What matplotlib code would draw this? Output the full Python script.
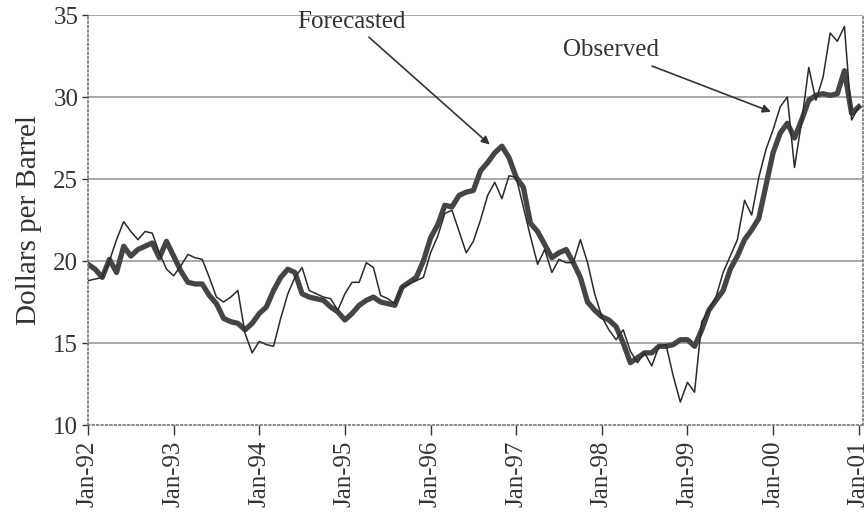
import matplotlib
matplotlib.use("Agg")
import matplotlib.pyplot as plt
import numpy as np

plt.rcParams['font.family'] = ['Liberation Serif', 'DejaVu Serif']

# monthly prices, Jan-92 .. Jan-01
observed = [18.8, 18.9, 19.0, 20.0, 21.3, 22.4, 21.8, 21.3, 21.8, 21.7, 20.5, 19.5,
            19.1, 19.7, 20.4, 20.2, 20.1, 19.0, 17.8, 17.5, 17.8, 18.2, 15.6, 14.4,
            15.1, 14.9, 14.8, 16.5, 18.0, 19.0, 19.6, 18.2, 18.0, 17.8, 17.7, 17.0,
            18.0, 18.7, 18.7, 19.9, 19.6, 17.9, 17.7, 17.4, 18.4, 18.6, 18.8, 19.0,
            20.5, 21.5, 22.9, 23.1, 21.8, 20.5, 21.2, 22.5, 24.0, 24.8, 23.8, 25.2,
            25.1, 23.3, 21.5, 19.8, 20.7, 19.3, 20.1, 19.9, 19.9, 21.3, 19.9, 18.0,
            16.6, 15.8, 15.2, 15.8, 14.5, 13.8, 14.4, 13.6, 14.8, 14.9, 13.0, 11.4,
            12.6, 12.0, 16.3, 17.0, 17.8, 19.3, 20.3, 21.3, 23.7, 22.8, 25.1, 26.8,
            28.0, 29.4, 30.0, 25.7, 28.5, 31.8, 29.8, 31.2, 33.9, 33.4, 34.3, 28.6,
            29.4]
forecasted = [19.8, 19.5, 19.0, 20.1, 19.3, 20.9, 20.3, 20.7, 20.9, 21.1, 20.2, 21.2,
              20.3, 19.4, 18.7, 18.6, 18.6, 17.9, 17.4, 16.5, 16.3, 16.2, 15.8, 16.2,
              16.8, 17.2, 18.2, 19.0, 19.5, 19.3, 18.0, 17.8, 17.7, 17.6, 17.2, 16.9,
              16.4, 16.8, 17.3, 17.6, 17.8, 17.5, 17.4, 17.3, 18.4, 18.7, 19.0, 20.0,
              21.4, 22.2, 23.4, 23.3, 24.0, 24.2, 24.3, 25.5, 26.0, 26.6, 27.0, 26.3,
              25.1, 24.5, 22.3, 21.8, 21.0, 20.2, 20.5, 20.7, 19.9, 19.0, 17.5, 17.0,
              16.6, 16.4, 16.0, 15.0, 13.8, 14.1, 14.4, 14.4, 14.8, 14.8, 14.9, 15.2,
              15.2, 14.8, 15.8, 17.0, 17.6, 18.2, 19.5, 20.3, 21.3, 21.9, 22.6, 24.6,
              26.6, 27.8, 28.4, 27.5, 28.6, 29.8, 30.1, 30.2, 30.1, 30.2, 31.6, 29.0,
              29.4]
year_labels = ['Jan-92', 'Jan-93', 'Jan-94', 'Jan-95', 'Jan-96',
               'Jan-97', 'Jan-98', 'Jan-99', 'Jan-00', 'Jan-01']

months = np.arange(len(observed))

fig = plt.figure(figsize=(8.66, 5.16), dpi=100)
ax = fig.add_axes([88/866, 1 - 425/516, (863 - 88)/866, (425 - 15)/516])

# grid lines
for g in [15, 20, 25, 30, 35]:
    ax.axhline(g, color='#9a9a9a', lw=1.2, zorder=0)

ax.plot(months, forecasted, color='#454545', lw=3.8, solid_joinstyle='round')
ax.plot(months, observed, color='#2a2a2a', lw=1.1)

ax.set_xlim(0, 108.6)
ax.set_ylim(10, 35)
ax.set_xticks(np.arange(0, 109, 12))
ax.set_xticklabels(year_labels, rotation=90)
ax.set_yticks([10, 15, 20, 25, 30, 35])

for side in ['left', 'bottom', 'right']:
    ax.spines[side].set_linestyle(':')
    ax.spines[side].set_color('#777777')
    ax.spines[side].set_linewidth(1.2)
ax.spines['top'].set_visible(False)

ax.tick_params(axis='both', labelsize=18, colors='#333333', direction='out')
ax.tick_params(axis='x', length=7, width=1, pad=4)
ax.tick_params(axis='y', length=4, width=1, pad=3)

ax.set_ylabel('Dollars per Barrel', fontsize=21, color='#333333', labelpad=8)

# annotations
ax.annotate('Forecasted', xy=(56.3, 27.1), xytext=(36.9, 34.6),
            fontsize=18, color='#333333', ha='center', va='center',
            arrowprops=dict(arrowstyle='-|>', color='#333333', lw=1.2,
                            shrinkA=2, shrinkB=0, mutation_scale=12))
ax.annotate('Observed', xy=(95.7, 29.1), xytext=(73.3, 32.85),
            fontsize=18, color='#333333', ha='center', va='center',
            arrowprops=dict(arrowstyle='-|>', color='#333333', lw=1.2,
                            shrinkA=4, shrinkB=0, mutation_scale=12))

plt.savefig('out.png', dpi=100)
